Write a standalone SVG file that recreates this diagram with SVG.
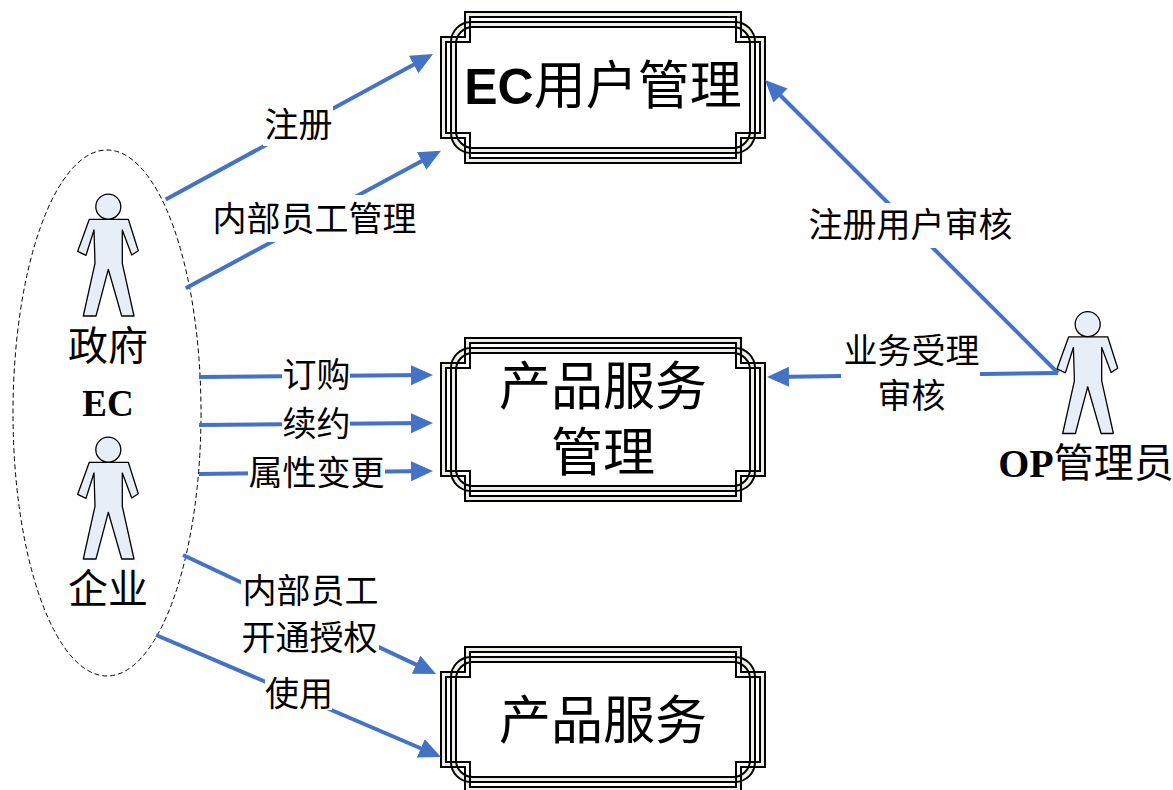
<svg xmlns="http://www.w3.org/2000/svg" width="1173" height="790" viewBox="0 0 1173 790">
<style>
text{font-family:"Liberation Serif","Noto Sans CJK SC",serif;fill:#000;text-anchor:middle}
.l{font-size:34px}
.m{font-size:40px}
.h{font-size:52px}
.b{font-weight:bold}
.ln{stroke:#000;stroke-width:2;fill:none}
.band{fill:#eeeee4}
.white{fill:#fff}
.c{stroke:#4472c4;stroke-width:4;fill:none;marker-end:url(#arrow)}
.bg{fill:#fff}
.p{fill:#e8eef8;stroke:#000;stroke-width:1.3;stroke-linejoin:round}
</style>
<defs>
<marker id="arrow" markerUnits="userSpaceOnUse" markerWidth="24" markerHeight="22" refX="17" refY="10" orient="auto"><path d="M0 0L22 10L0 20Z" fill="#4472c4"/></marker>
<g id="person">
<path class="p" d="M89.3 219.3L128.3 219.3L138.3 250.7L131.7 255L122.3 230L122.3 263.3L134 316L121.7 316L108.3 269.3L96 316L83.3 316L95 263.3L94 230L86 255.3L77.7 251.3Z"/>
<circle class="p" cx="108.3" cy="206.7" r="12.5"/>
</g>
</defs>
<rect width="1173" height="790" fill="#fff"/>
<g id="ec-group"><ellipse cx="107" cy="413" rx="94" ry="263" fill="none" stroke="#000" stroke-width="1" stroke-dasharray="5 3"/></g>
<g id="frame-ec-user">
<path class="band" d="M465 12H741V37H765V138H741V163H465V138H441V37H465Z"/>
<path class="white" d="M470 17H736V42H760V133H736V158H470V133H446V42H470Z"/>
<rect class="band" x="451" y="22" width="304" height="131" rx="20"/>
<rect class="white" x="456" y="27" width="294" height="121" rx="17"/>
<path class="ln" d="M465 12H741V37H765V138H741V163H465V138H441V37H465Z"/>
<path class="ln" d="M470 17H736V42H760V133H736V158H470V133H446V42H470Z"/>
<rect class="ln" x="451" y="22" width="304" height="131" rx="20"/>
<rect class="ln" x="456" y="27" width="294" height="121" rx="17"/>
<text class="h" x="603" y="104"><tspan class="b" font-family="Liberation Sans" style="font-size:50px">EC</tspan>用户管理</text>
</g>
<g id="frame-product-mgmt">
<path class="band" d="M465 338H741V363H765V476H741V501H465V476H441V363H465Z"/>
<path class="white" d="M470 343H736V368H760V471H736V496H470V471H446V368H470Z"/>
<rect class="band" x="451" y="348" width="304" height="143" rx="20"/>
<rect class="white" x="456" y="353" width="294" height="133" rx="17"/>
<path class="ln" d="M465 338H741V363H765V476H741V501H465V476H441V363H465Z"/>
<path class="ln" d="M470 343H736V368H760V471H736V496H470V471H446V368H470Z"/>
<rect class="ln" x="451" y="348" width="304" height="143" rx="20"/>
<rect class="ln" x="456" y="353" width="294" height="133" rx="17"/>
<text class="h" x="603" y="405">产品服务</text>
<text class="h" x="603" y="471">管理</text>
</g>
<g id="frame-product">
<path class="band" d="M465 647H741V672H765V767H741V792H465V767H441V672H465Z"/>
<path class="white" d="M470 652H736V677H760V762H736V787H470V762H446V677H470Z"/>
<rect class="band" x="451" y="657" width="304" height="125" rx="20"/>
<rect class="white" x="456" y="662" width="294" height="115" rx="17"/>
<path class="ln" d="M465 647H741V672H765V767H741V792H465V767H441V672H465Z"/>
<path class="ln" d="M470 652H736V677H760V762H736V787H470V762H446V677H470Z"/>
<rect class="ln" x="451" y="657" width="304" height="125" rx="20"/>
<rect class="ln" x="456" y="662" width="294" height="115" rx="17"/>
<text class="h" x="603" y="739">产品服务</text>
</g>
<g id="connectors">
<path class="c" d="M165.700 199.500L428.600 56.400"/>
<path class="c" d="M185.700 288.300L436.600 153"/>
<path class="c" d="M199 377L428 375"/>
<path class="c" d="M199 425L428 423"/>
<path class="c" d="M199 474L428 471"/>
<path class="c" d="M183 555L431.500 671.900"/>
<path class="c" d="M156 635L436.400 755"/>
<path class="c" d="M1058 373L768.500 83.500"/>
<path class="c" d="M1058 373L772 377"/>
</g>
<g id="person-gov"><use href="#person"/><text class="m" x="108" y="360">政府</text></g>
<g id="label-ec"><text class="b" x="108" y="416" style="font-size:37px">EC</text></g>
<g id="person-ent"><use href="#person" y="243"/><text class="m" x="108" y="603">企业</text></g>
<g id="person-op"><use href="#person" x="979.4" y="117.5"/><text class="m" x="1086" y="477"><tspan class="b">OP</tspan>管理员</text></g>
<g id="labels">
<rect class="bg" x="263" y="105" width="70" height="41"/><text class="l" x="298.500" y="137">注册</text>
<rect class="bg" x="213" y="195" width="203" height="47"/><text class="l" x="314.500" y="231">内部员工管理</text>
<rect class="bg" x="282" y="358" width="68" height="32"/><text class="l" x="316.500" y="387">订购</text>
<rect class="bg" x="282" y="407" width="68" height="32"/><text class="l" x="316.500" y="436">续约</text>
<rect class="bg" x="248" y="456" width="137" height="32"/><text class="l" x="316.500" y="485">属性变更</text>
<rect class="bg" x="241" y="574" width="138" height="82"/><text class="l" x="310.500" y="603">内部员工</text><text class="l" x="309.500" y="650">开通授权</text>
<rect class="bg" x="265" y="677" width="67" height="33"/><text class="l" x="299" y="706">使用</text>
<rect class="bg" x="808" y="203" width="205" height="45"/><text class="l" x="910.500" y="237">注册用户审核</text>
<rect class="bg" x="841" y="334" width="139" height="80"/><text class="l" x="911.500" y="363">业务受理</text><text class="l" x="911.500" y="408">审核</text>
</g>
</svg>
